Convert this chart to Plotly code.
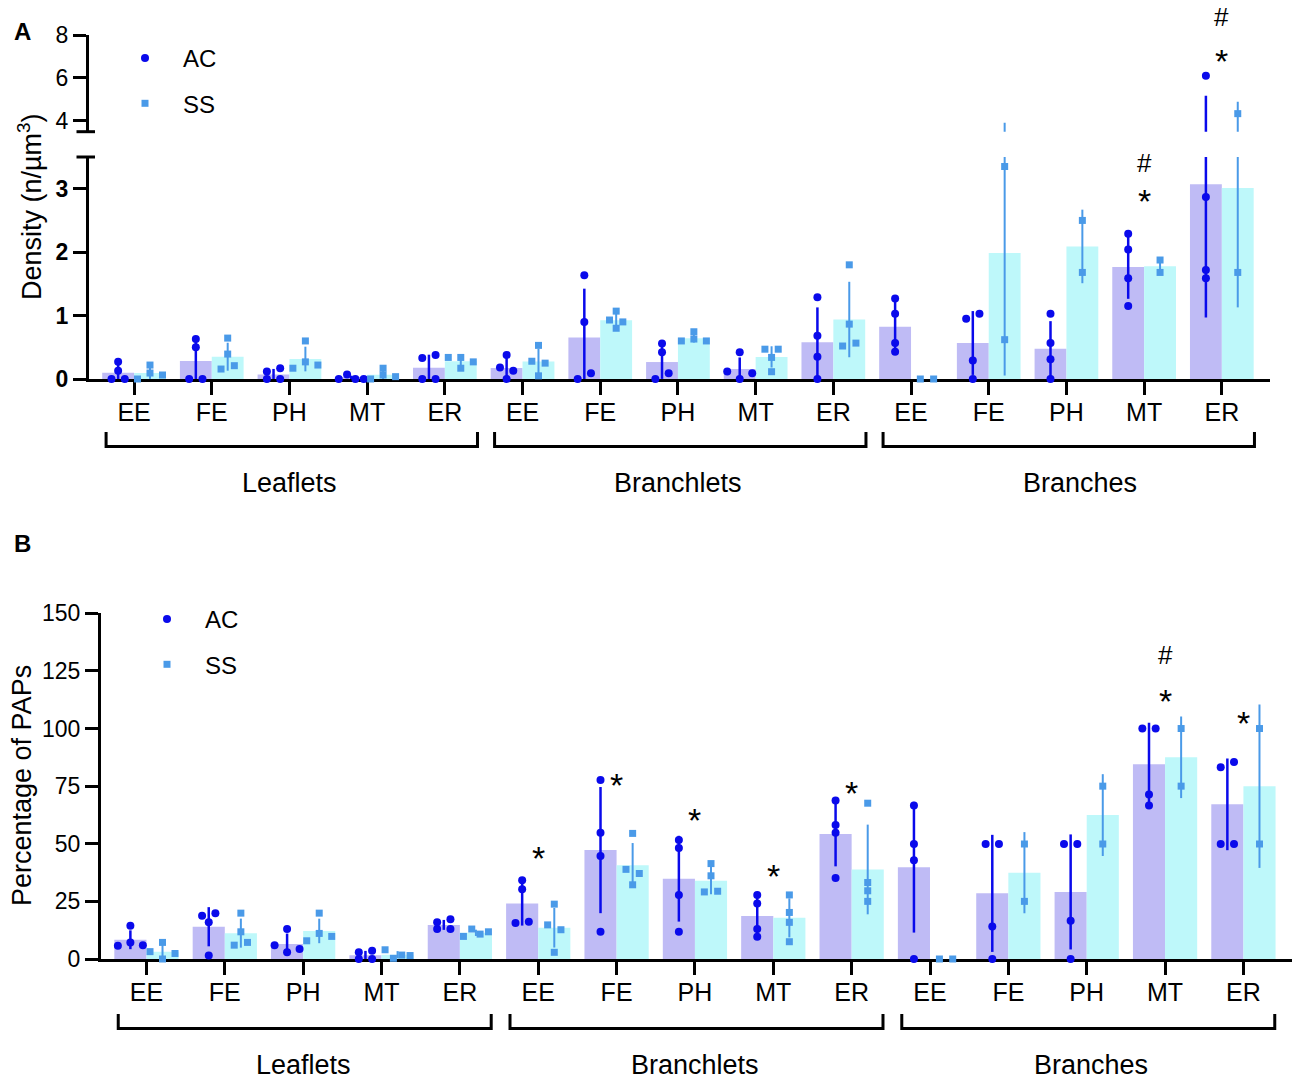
import numpy as np
import plotly.graph_objects as go

W, H = 1300, 1082

# ---------------- data ----------------
regions = ["Leaflets", "Branchlets", "Branches"]
cell_types = ["EE", "FE", "PH", "MT", "ER"]
tick_text = cell_types * 3

# Panel A: density (n/µm³), individual values per category (Leaflets EE..ER, Branchlets EE..ER, Branches EE..ER)
density_ac = [
    [0, 0.27, 0.13, 0], [0, 0.63, 0.50, 0], [0, 0.12, 0.17, 0], [0, 0.07, 0, 0], [0.33, 0, 0.38, 0],
    [0.18, 0.38, 0, 0.13], [0, 1.635, 0.90, 0.09], [0, 0.56, 0.42, 0.09], [0.12, 0, 0.42, 0.09], [1.29, 0.68, 0.35, 0],
    [1.27, 1.03, 0.566, 0.43], [0.95, 0.29, 0, 1.03], [1.03, 0.566, 0.31, 0], [2.29, 2.04, 1.59, 1.15], [6.10, 2.87, 1.72, 1.59],
]
density_ss = [
    [0, 0.22, 0.094, 0.063], [0.157, 0.645, 0.393, 0.21], [0.17, 0.60, 0.27, 0.22], [0, 0.17, 0.063, 0.037], [0.34, 0.17, 0.34, 0.27],
    [0.28, 0.53, 0.05, 0.25], [0.93, 1.07, 0.90, 0.80], [0.60, 0.745, 0.63, 0.60], [0.47, 0.34, 0.115, 0.47], [0.52, 1.80, 0.865, 0.566],
    [0, 0], [3.35, 0.62], [2.50, 1.68], [1.876, 1.68], [4.34, 1.68],
]

# Panel B: percentage of PAPs
paps_ac = [
    [5.8, 14.4, 7.2, 6.0], [18.8, 1.5, 19.8, 15.9], [6.0, 2.9, 13.0, 4.3], [0, 2.9, 3.6, 0], [13.0, 15.9, 17.3, 13.0],
    [15.6, 34.2, 30.3, 16.2], [77.7, 54.8, 44.7, 11.8], [51.6, 48.2, 27.8, 11.8], [27.8, 24.1, 13.0, 9.7], [68.8, 58.1, 54.8, 35.2],
    [66.6, 49.9, 42.8, 0], [49.9, 14.1, 0, 49.9], [49.9, 16.6, 0, 49.9], [100, 71.4, 66.6, 100], [83.2, 49.9, 85.5, 49.9],
]
paps_ss = [
    [3.2, 7.2, 0, 2.4], [6.0, 19.9, 11.8, 7.2], [7.9, 19.9, 11.1, 9.8], [4.0, 0.3, 1.7, 1.5], [9.8, 13.0, 10.8, 11.8],
    [14.8, 23.8, 2.9, 12.7], [38.9, 54.5, 32.2, 37.1], [29.1, 41.4, 36.1, 29.4], [27.8, 20.2, 15.9, 7.5], [67.6, 33.2, 29.6, 25.0],
    [0, 0], [49.9, 25.0], [75.0, 49.9], [100, 75.0], [100, 49.9],
]

# significance marks: (category index, value, symbol, axis)
sig_density = [(13, 2.93, "*", "y"), (13, 3.41, "#", "y"), (14, 7.16, "*", "y2"), (14, 8.84, "#", "y2")]
sig_paps = [(5, 47.3, "*", "y3"), (6, 79.0, "*", "y3"), (7, 63.8, "*", "y3"), (8, 39.5, "*", "y3"), (9, 75.5, "*", "y3"),
            (13, 131.9, "#", "y3"), (13, 115.4, "*", "y3"), (14, 105.9, "*", "y3")]

# ---------------- style / geometry ----------------
FONT = "Liberation Sans, Arial, sans-serif"
AC_BAR, SS_BAR = "#BFBBF5", "#BEF8FA"
AC_PT, SS_PT = "#0A0AEB", "#4A9AE8"
BARGAP = 0.18
XRANGE = [-0.58, 14.62]
YR = {"y": (0, 3.5), "y2": (3.5, 8), "y3": (0, 150)}

A_XPX = (89, 1270)
B_XPX = (101, 1292)
A_LOW = (379, 157)
A_UP = (131.7, 35)
B_Y = (959, 613.3)


def xdom(p):
    return [p[0] / W, p[1] / W]


def ydom(p):
    return [1 - p[0] / H, 1 - p[1] / H]


def swarm(vals, ppu, spacing):
    vals = np.asarray(vals, float)
    order = np.argsort(vals, kind="stable")
    clusters, cur = [], [order[0]]
    for a, b in zip(order[:-1], order[1:]):
        if (vals[b] - vals[a]) * ppu < 6:
            cur.append(b)
        else:
            clusters.append(cur)
            cur = [b]
    clusters.append(cur)
    off = np.zeros(len(vals))
    for c in clusters:
        c = sorted(c)
        k = len(c)
        if k > 1:
            d = min(13.3, 25 / (k - 1))
            for j, i in enumerate(c):
                off[i] = (j - (k - 1) / 2) * d / spacing
    return off


fig = go.Figure()
idx = np.arange(15)


def add_panel(ac, ss, xa, segments, ppu, spacing):
    half = (1 - BARGAP) / 4
    series = [
        ("AC", ac, -half, AC_BAR, AC_PT, "circle", 8, AC_PT, 2.5),
        ("SS", ss, +half, SS_BAR, SS_PT, "square", 7, SS_PT, 2.0),
    ]
    for name, data, c_off, bc, pc, sym, msz, ec, ew in series:
        means = np.array([np.mean(v) for v in data])
        for ya, lo, hi in segments:
            fig.add_trace(go.Bar(x=idx, y=means, marker=dict(color=bc, line_width=0), offsetgroup=name,
                                 xaxis=xa, yaxis=ya, showlegend=False, hoverinfo="skip"))
    for name, data, c_off, bc, pc, sym, msz, ec, ew in series:
        means = np.array([np.mean(v) for v in data])
        sds = np.array([np.std(v, ddof=1) for v in data])
        for ya, lo, hi in segments:
            fig.add_trace(go.Scatter(x=idx + c_off, y=means, mode="markers",
                                     marker=dict(size=1, color="rgba(0,0,0,0)"),
                                     error_y=dict(type="data", array=sds, visible=True, color=ec, thickness=ew, width=0),
                                     xaxis=xa, yaxis=ya, showlegend=False, hoverinfo="skip"))
    for name, data, c_off, bc, pc, sym, msz, ec, ew in series:
        px, py = [], []
        for i, v in enumerate(data):
            off = swarm(v, ppu, spacing)
            for val, o in zip(v, off):
                px.append(i + c_off + o)
                py.append(val)
        px, py = np.array(px), np.array(py)
        for ya, lo, hi in segments:
            m = (py >= lo) & (py <= hi)
            fig.add_trace(go.Scatter(x=px[m], y=py[m], mode="markers",
                                     marker=dict(symbol=sym, size=msz, color=pc, line_width=0),
                                     cliponaxis=False, xaxis=xa, yaxis=ya, showlegend=False, hoverinfo="skip"))


ppu_A = (A_LOW[0] - A_LOW[1]) / 3.5
sp_A = (A_XPX[1] - A_XPX[0]) / (XRANGE[1] - XRANGE[0])
ppu_B = (B_Y[0] - B_Y[1]) / 150
sp_B = (B_XPX[1] - B_XPX[0]) / (XRANGE[1] - XRANGE[0])

add_panel(density_ac, density_ss, "x", [("y", 0, 3.5), ("y2", 3.5001, 8)], ppu_A, sp_A)
add_panel(paps_ac, paps_ss, "x2", [("y3", 0, 150)], ppu_B, sp_B)

# legend entries
for lg, grp in (("legend", "A"), ("legend2", "B")):
    fig.add_trace(go.Scatter(x=[None], y=[None], mode="markers", name="AC", legend=lg, legendgroup=grp + "ac",
                             marker=dict(symbol="circle", size=8, color=AC_PT), xaxis="x", yaxis="y"))
    fig.add_trace(go.Scatter(x=[None], y=[None], mode="markers", name="SS", legend=lg, legendgroup=grp + "ss",
                             marker=dict(symbol="square", size=7, color=SS_PT), xaxis="x", yaxis="y"))

axis_common = dict(showgrid=False, zeroline=False, showline=True, linewidth=3, linecolor="black",
                   ticks="outside", ticklen=13, tickwidth=3, tickcolor="black", layer="below traces",
                   automargin=False)

fig.update_layout(
    width=W, height=H, margin=dict(l=0, r=0, t=0, b=0, pad=0, autoexpand=False),
    paper_bgcolor="white", plot_bgcolor="white",
    font=dict(family=FONT, color="black"),
    barmode="group", bargap=BARGAP, bargroupgap=0,
    xaxis=dict(domain=xdom(A_XPX), range=XRANGE, anchor="y", tickvals=list(idx), ticktext=tick_text,
               tickfont=dict(size=25), ticklabelstandoff=-4, **axis_common),
    yaxis=dict(domain=ydom(A_LOW), range=list(YR["y"]), anchor="x", tickvals=[0, 1, 2, 3],
               ticktext=[f"<b>{t}</b>" for t in [0, 1, 2, 3]], tickfont=dict(size=23), **axis_common),
    yaxis2=dict(domain=ydom(A_UP), range=list(YR["y2"]), anchor="x", tickvals=[4, 6, 8],
                tickfont=dict(size=23), **axis_common),
    xaxis2=dict(domain=xdom(B_XPX), range=XRANGE, anchor="y3", tickvals=list(idx), ticktext=tick_text,
                tickfont=dict(size=25), ticklabelstandoff=-4, **axis_common),
    yaxis3=dict(domain=ydom(B_Y), range=list(YR["y3"]), anchor="x2", tickvals=[0, 25, 50, 75, 100, 125, 150],
                tickfont=dict(size=23), **axis_common),
    legend=dict(x=107 / W, y=1 - 36 / H, xanchor="left", yanchor="top", font=dict(size=24),
                itemwidth=66, tracegroupgap=11, bgcolor="rgba(0,0,0,0)"),
    legend2=dict(x=129 / W, y=1 - 597 / H, xanchor="left", yanchor="top", font=dict(size=24),
                 itemwidth=66, tracegroupgap=11, bgcolor="rgba(0,0,0,0)"),
    showlegend=True,
)

shapes = []
annotations = []

# axis break marks on panel A
for ya, yv in (("y", 1), ("y2", 0)):
    shapes.append(dict(type="line", xref="x domain", yref=f"{ya} domain",
                       x0=-12.5 / (A_XPX[1] - A_XPX[0]), x1=6 / (A_XPX[1] - A_XPX[0]), y0=yv, y1=yv,
                       line=dict(color="black", width=3)))

# region brackets and labels
for xa, (ytop, ybot), ylab, lx_off, rx_off, lab_shift in (
        ("x", (432, 446.5), 483, -0.36, 0.42, [0, 0, 0.17]),
        ("x2", (1014, 1028.5), 1065, -0.36, 0.40, [0, 0, 0.05])):
    for r, reg in enumerate(regions):
        x0 = r * 5 + lx_off
        x1 = r * 5 + 4 + rx_off
        y0 = 1 - ytop / H
        y1 = 1 - ybot / H
        shapes.append(dict(type="path", xref=xa, yref="paper",
                           path=f"M {x0},{y0} L {x0},{y1} L {x1},{y1} L {x1},{y0}",
                           line=dict(color="black", width=3)))
        annotations.append(dict(text=reg, xref=xa, yref="paper", x=r * 5 + 2 + lab_shift[r], y=1 - ylab / H,
                                xanchor="center", yanchor="middle", showarrow=False, font=dict(size=27)))

# significance marks (placed in axis-domain units so marks above the range stay visible)
for xa, marks in (("x", sig_density), ("x2", sig_paps)):
    for i, v, s, ya in marks:
        lo, hi = YR[ya]
        annotations.append(dict(text=s, xref=xa, yref=f"{ya} domain", x=i, y=(v - lo) / (hi - lo),
                                showarrow=False, xanchor="center", yanchor="middle",
                                yshift=-8 if s == "*" else 0, font=dict(size=34 if s == "*" else 26)))

# y-axis titles and panel letters
annotations.append(dict(text="Density (n/µm<sup>3</sup>)", xref="paper", yref="paper", x=30 / W, y=1 - 207 / H,
                        textangle=-90, showarrow=False, xanchor="center", yanchor="middle", font=dict(size=27)))
annotations.append(dict(text="Percentage of PAPs", xref="paper", yref="paper", x=22 / W, y=1 - 786 / H,
                        textangle=-90, showarrow=False, xanchor="center", yanchor="middle", font=dict(size=27)))
annotations.append(dict(text="<b>A</b>", xref="paper", yref="paper", x=22 / W, y=1 - 31 / H, showarrow=False,
                        xanchor="center", yanchor="middle", font=dict(size=24)))
annotations.append(dict(text="<b>B</b>", xref="paper", yref="paper", x=22 / W, y=1 - 543 / H, showarrow=False,
                        xanchor="center", yanchor="middle", font=dict(size=24)))

fig.update_layout(shapes=shapes, annotations=annotations)
# page body margin removed so the 1300x1082 figure fills the window exactly
fig.write_html("out.html", config={"displayModeBar": False},
               post_script="document.body.style.margin='0px';")
